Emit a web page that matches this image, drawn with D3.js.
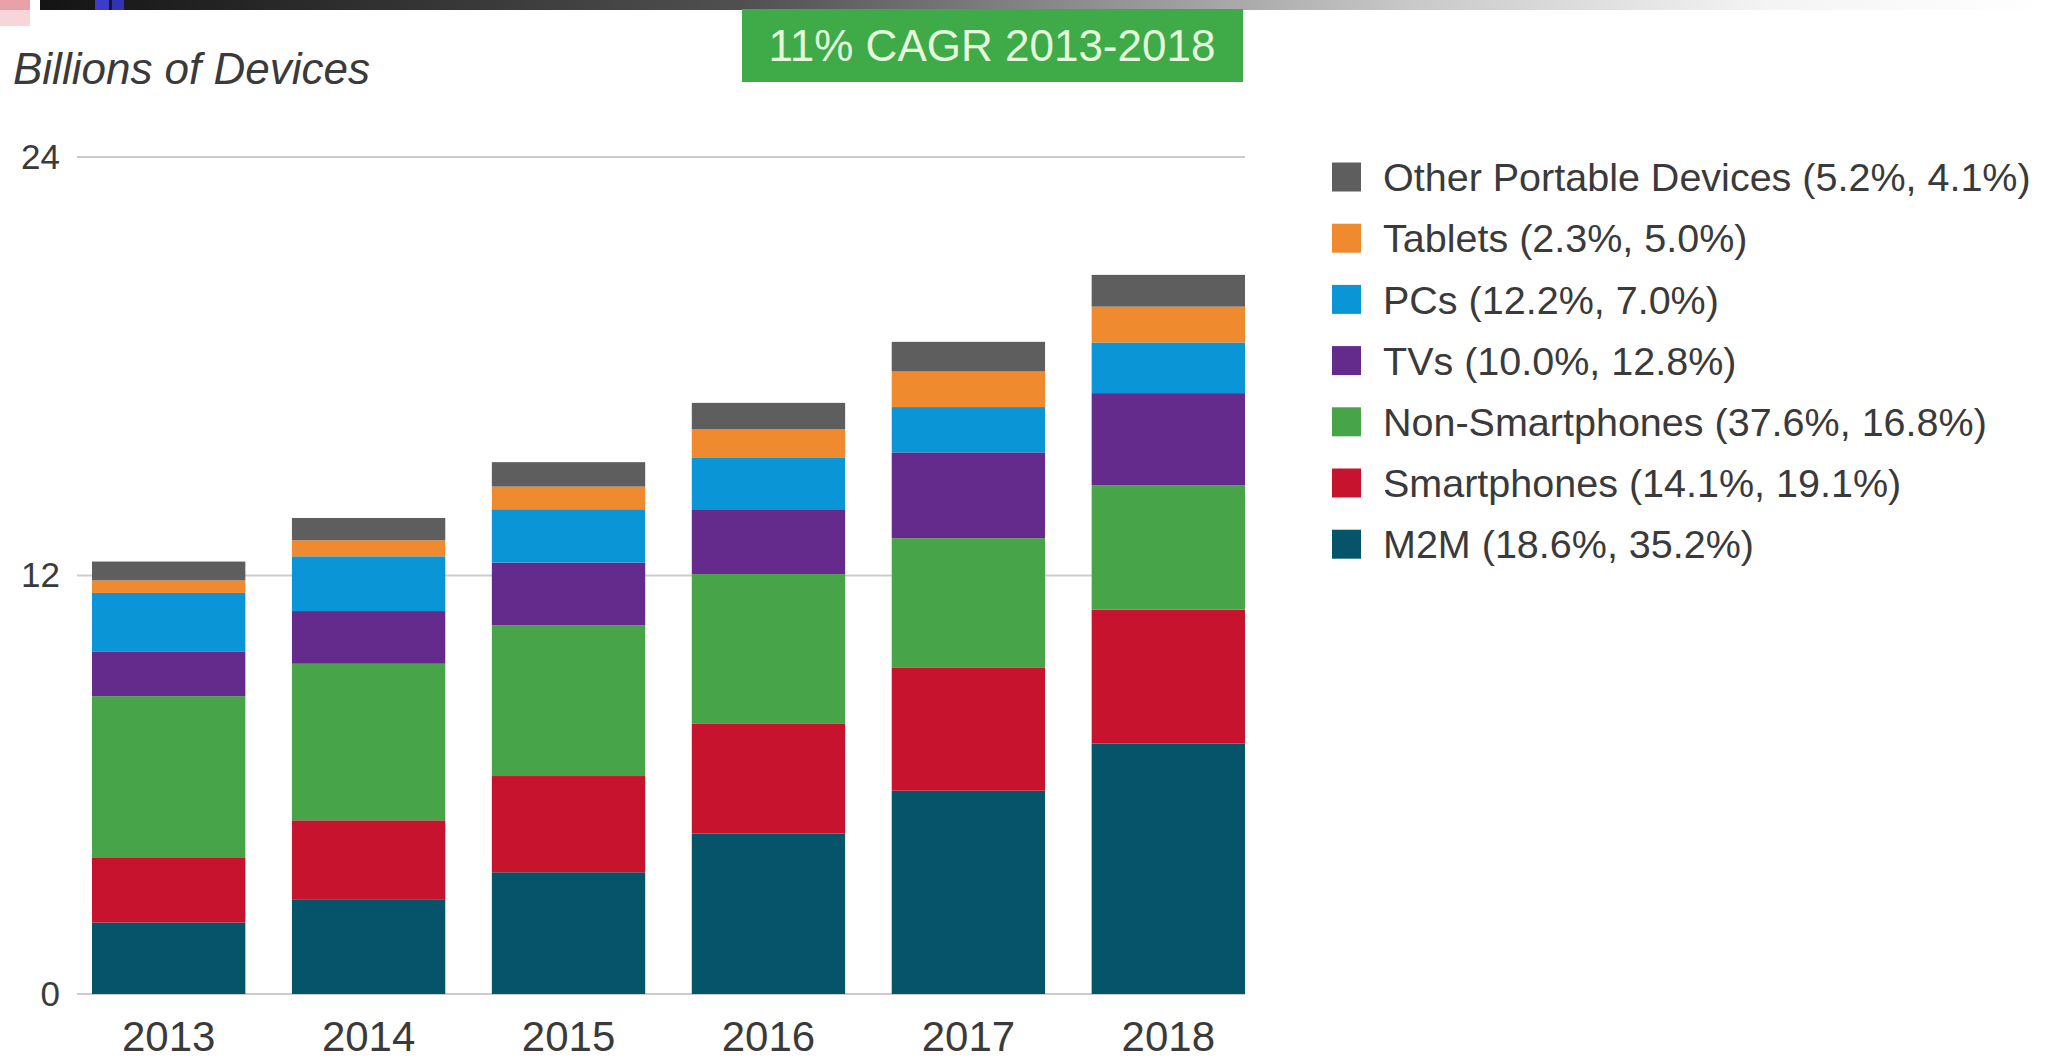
<!DOCTYPE html>
<html>
<head>
<meta charset="utf-8">
<script src="https://cdn.jsdelivr.net/npm/d3@7"></script>
<style>
  html, body { margin: 0; padding: 0; background: #ffffff; }
  svg { display: block; }
  text { font-family: "Liberation Sans", Arial, sans-serif; }
</style>
</head>
<body>
<svg id="chart" width="2052" height="1061"></svg>
<script>
// ---- data ----
const years = ["2013", "2014", "2015", "2016", "2017", "2018"];
const seriesKeys = ["M2M", "Smartphones", "Non-Smartphones", "TVs", "PCs", "Tablets", "Other Portable Devices"];
const m2m            = [2.05, 2.70, 3.49, 4.60, 5.83, 7.18];
const smartphones    = [1.85, 2.28, 2.76, 3.16, 3.52, 3.84];
const nonSmartphones = [4.64, 4.49, 4.32, 4.28, 3.72, 3.57];
const tvs            = [1.27, 1.51, 1.80, 1.86, 2.46, 2.64];
const pcs            = [1.69, 1.57, 1.53, 1.47, 1.30, 1.45];
const tablets        = [0.36, 0.46, 0.65, 0.82, 1.02, 1.03];
const otherPortable  = [0.54, 0.64, 0.70, 0.76, 0.85, 0.91];
const legendLabels = [
  "Other Portable Devices (5.2%, 4.1%)",
  "Tablets (2.3%, 5.0%)",
  "PCs (12.2%, 7.0%)",
  "TVs (10.0%, 12.8%)",
  "Non-Smartphones (37.6%, 16.8%)",
  "Smartphones (14.1%, 19.1%)",
  "M2M (18.6%, 35.2%)"
];
const yTicks = [0, 12, 24];
const yLabel = "Billions of Devices";
const cagrText = "11% CAGR 2013-2018";

const seriesValues = [m2m, smartphones, nonSmartphones, tvs, pcs, tablets, otherPortable];
const colors = ["#06546a", "#c8132f", "#48a448", "#652b8c", "#0a96d6", "#f08a2e", "#5e5e5e"];

const rows = years.map((yr, i) => {
  const r = { year: yr };
  seriesKeys.forEach((k, j) => { r[k] = seriesValues[j][i]; });
  return r;
});

// ---- layout ----
const svg = d3.select("#chart");
svg.append("rect").attr("width", 2052).attr("height", 1061).attr("fill", "#ffffff");

// decorative slide header strip
const defs = svg.append("defs");
const grad = defs.append("linearGradient").attr("id", "hdr").attr("x1", "0").attr("x2", "1");
grad.append("stop").attr("offset", "0").attr("stop-color", "#141414");
grad.append("stop").attr("offset", "0.35").attr("stop-color", "#505050");
grad.append("stop").attr("offset", "0.68").attr("stop-color", "#c8c8c8");
grad.append("stop").attr("offset", "0.86").attr("stop-color", "#f4f4f4");
grad.append("stop").attr("offset", "1").attr("stop-color", "#ffffff");
svg.append("rect").attr("x", 40).attr("y", 0).attr("width", 2012).attr("height", 10).attr("fill", "url(#hdr)");
svg.append("rect").attr("x", 0).attr("y", 0).attr("width", 30).attr("height", 26).attr("fill", "#f7d5d8");
svg.append("rect").attr("x", 0).attr("y", 0).attr("width", 30).attr("height", 10).attr("fill", "#e9a0a8");
svg.append("rect").attr("x", 95).attr("y", 0).attr("width", 14).attr("height", 10).attr("fill", "#3c3cc8");
svg.append("rect").attr("x", 112).attr("y", 0).attr("width", 12).attr("height", 10).attr("fill", "#3232b4");

const x = d3.scaleBand().domain(years).range([92, 1245]).paddingInner(0.233).paddingOuter(0);
const y = d3.scaleLinear().domain([0, 24]).range([994, 157]);

// gridlines
svg.append("g").selectAll("line").data(yTicks).join("line")
  .attr("x1", 77).attr("x2", 1245)
  .attr("y1", d => y(d)).attr("y2", d => y(d))
  .attr("stroke", "#cccccc").attr("stroke-width", 2);

// y axis labels
const yAxis = d3.axisLeft(y).tickValues(yTicks).tickSize(0).tickPadding(0);
const yg = svg.append("g").attr("transform", "translate(60,0)").call(yAxis);
yg.select(".domain").remove();
yg.selectAll("text").attr("font-size", 35).attr("fill", "#3a3a3a")
  .style("font-family", "'Liberation Sans', Arial, sans-serif");

// stacked bars
const stack = d3.stack().keys(seriesKeys);
const stacked = stack(rows);
svg.append("g").selectAll("g").data(stacked).join("g")
  .attr("fill", (d, i) => colors[i])
  .selectAll("rect").data(d => d).join("rect")
  .attr("x", d => x(d.data.year))
  .attr("width", x.bandwidth())
  .attr("y", d => y(d[1]))
  .attr("height", d => y(d[0]) - y(d[1]));

// x axis labels
const xAxis = d3.axisBottom(x).tickSize(0).tickPadding(0);
const xg = svg.append("g").attr("transform", "translate(0,1051)").call(xAxis);
xg.select(".domain").remove();
xg.selectAll("text").attr("font-size", 42).attr("fill", "#3a3a3a").attr("dy", "0")
  .style("font-family", "'Liberation Sans', Arial, sans-serif");

// y label (title)
svg.append("text").attr("x", 13).attr("y", 84)
  .attr("font-size", 44).attr("font-style", "italic").attr("fill", "#3a3a3a")
  .text(yLabel);

// CAGR box
svg.append("rect").attr("x", 742).attr("y", 9).attr("width", 501).attr("height", 73).attr("fill", "#3eab48");
svg.append("text").attr("x", 992).attr("y", 46).attr("dy", "0.35em")
  .attr("text-anchor", "middle").attr("font-size", 44).attr("fill", "#e4f7dc")
  .text(cagrText);

// legend
const legendColors = colors.slice().reverse();
const lg = svg.append("g").selectAll("g").data(legendLabels).join("g")
  .attr("transform", (d, i) => `translate(1332,${177 + i * 61.2})`);
lg.append("rect").attr("x", 0).attr("y", -14.5).attr("width", 29).attr("height", 29)
  .attr("fill", (d, i) => legendColors[i]);
lg.append("text").attr("x", 51).attr("y", 0).attr("dy", "0.36em")
  .attr("font-size", 39.5).attr("fill", "#3a3a3a")
  .text(d => d);
</script>
</body>
</html>
